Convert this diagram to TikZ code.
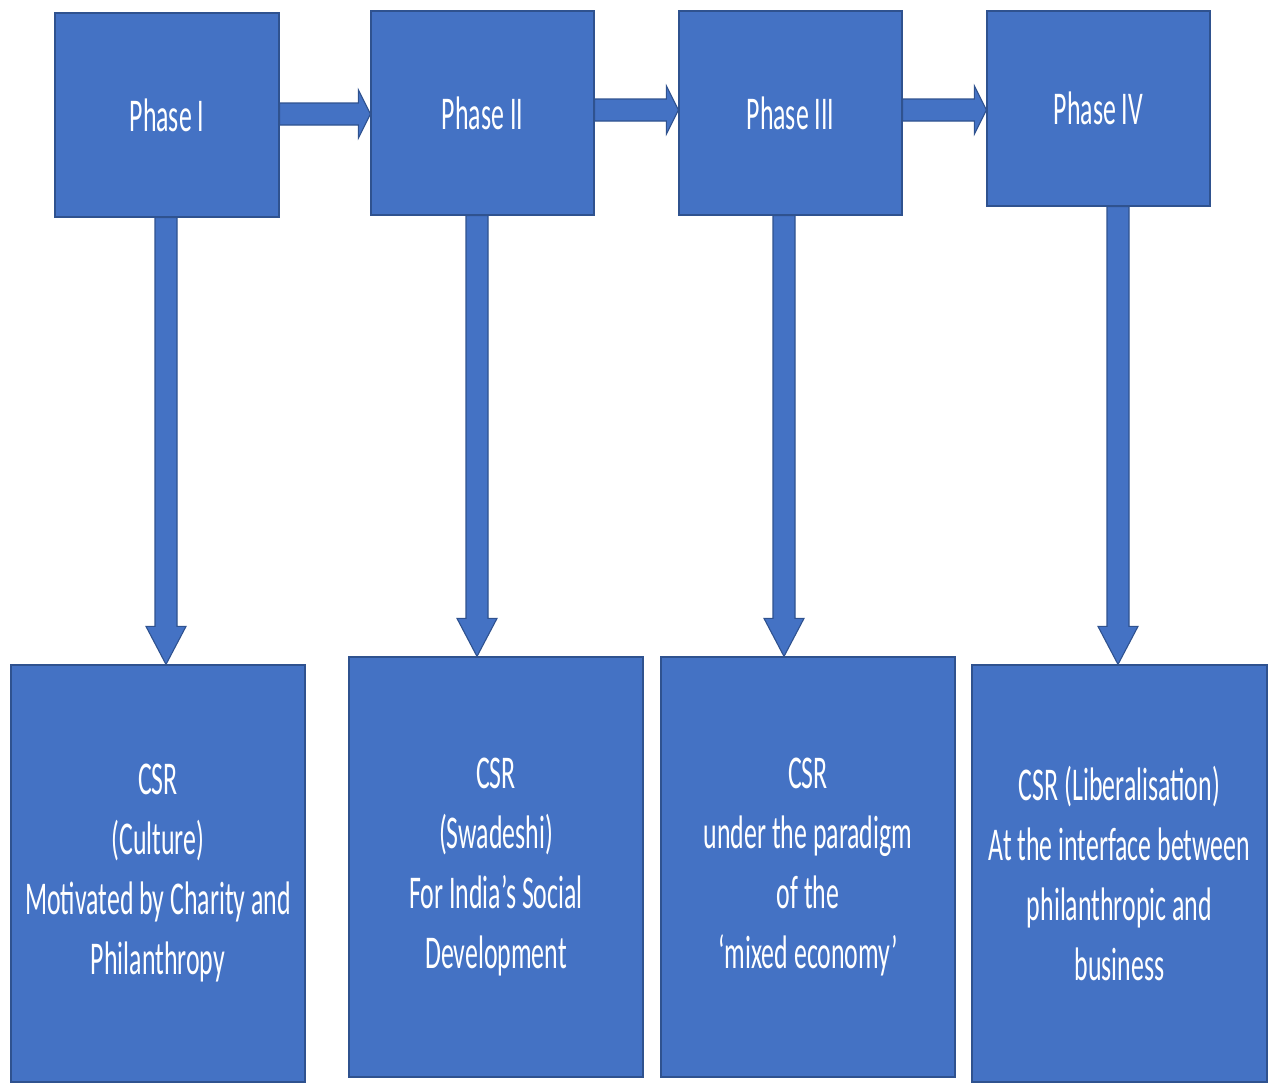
\documentclass[tikz,border=0pt]{standalone}
\usepackage{fontspec}
\newfontfamily\calfont{Carlito}[FakeStretch=0.55]
\usetikzlibrary{calc}
\definecolor{boxblue}{HTML}{4472C4}
\definecolor{boxedge}{HTML}{2F528F}
\tikzset{
  bluebox/.style={draw=boxedge, fill=boxblue, line width=1.2pt, inner sep=0pt,
    text=white, align=center, font=\calfont\fontsize{47}{60}\selectfont},
  blockarrow/.style={draw=boxedge, fill=boxblue, line width=1.1pt, line join=miter}
}
\newcommand\hblock[3]{% from node #1 to node #2, vertical offset #3
  \path (#1.east) ++(0,#3) coordinate (hA);
  \path (#2.west |- hA) coordinate (hB);
  \draw[blockarrow] ($(hA)+(0,-11)$) -- ($(hB)+(-12,-11)$) -- ($(hB)+(-12,-24)$) -- (hB)
    -- ($(hB)+(-12,24)$) -- ($(hB)+(-12,11)$) -- ($(hA)+(0,11)$) -- cycle;
}
\newcommand\vblock[3]{% from node #1 to node #2, horizontal offset #3
  \path (#1.south) ++(#3,0) coordinate (vA);
  \path (vA |- #2.north) coordinate (vB);
  \draw[blockarrow] ($(vA)+(-11,0)$) -- ($(vB)+(-11,-38)$) -- ($(vB)+(-20,-38)$) -- (vB)
    -- ($(vB)+(20,-38)$) -- ($(vB)+(11,-38)$) -- ($(vA)+(11,0)$) -- cycle;
}
\begin{document}
\begin{tikzpicture}[x=1pt,y=-1pt]
\useasboundingbox (0,0) rectangle (1271,1082);
% top phase boxes
\node[bluebox, minimum width=224pt, minimum height=204pt] (p1) at (167,115) {Phase I};
\node[bluebox, minimum width=223pt, minimum height=204pt] (p2) at (482.5,113) {Phase II};
\node[bluebox, minimum width=223pt, minimum height=204pt] (p3) at (790.5,113) {Phase III};
\node[bluebox, minimum width=223pt, minimum height=195pt] (p4) at (1098.5,108.5) {Phase IV};
% bottom boxes
\node[bluebox, minimum width=294pt, minimum height=417pt] (b1) at (158,873.5)
  {CSR\\(Culture)\\Motivated by Charity and\\Philanthropy};
\node[bluebox, minimum width=294pt, minimum height=420pt] (b2) at (496,867)
  {CSR\\(Swadeshi)\\For India’s Social\\Development};
\node[bluebox, minimum width=294pt, minimum height=420pt] (b3) at (808,867)
  {CSR\\under the paradigm\\of the\\‘mixed economy’};
\node[bluebox, minimum width=295pt, minimum height=417pt] (b4) at (1119.5,873.5)
  {CSR (Liberalisation)\\At the interface between\\philanthropic and\\business};
% horizontal arrows
\hblock{p1}{p2}{-1}
\hblock{p2}{p3}{-3}
\hblock{p3}{p4}{-3}
% vertical arrows
\vblock{p1}{b1}{-1}
\vblock{p2}{b2}{-5.5}
\vblock{p3}{b3}{-6.5}
\vblock{p4}{b4}{19.5}
\end{tikzpicture}
\end{document}
